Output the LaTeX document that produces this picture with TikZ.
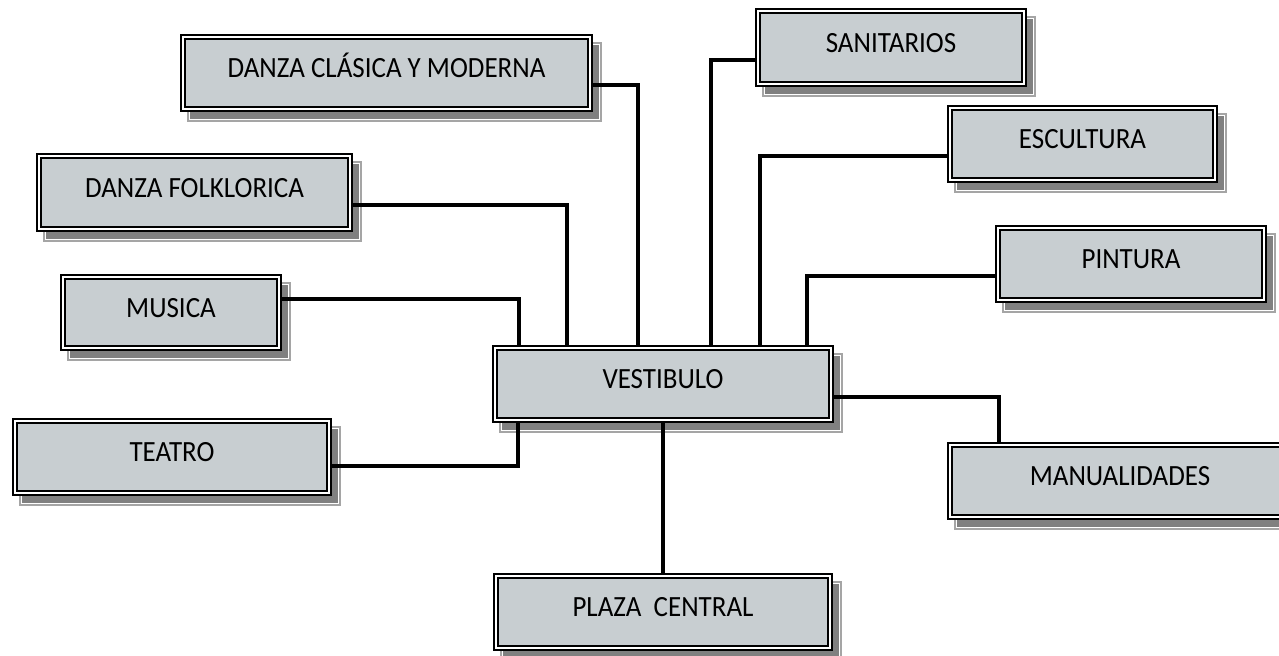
\documentclass[tikz,border=0pt]{standalone}
\usepackage{fontspec}
\setmainfont{Carlito}[FakeStretch=0.92]
\usetikzlibrary{fit}
\pgfdeclarelayer{shadowlayer}
\pgfdeclarelayer{linelayer}
\pgfsetlayers{shadowlayer,linelayer,main}
\definecolor{boxgray}{RGB}{200,206,209}
\definecolor{shadowgray}{RGB}{128,128,128}
\definecolor{shadowedge}{RGB}{165,165,165}
\newcommand\roomtext[1]{\smash{\raisebox{-3.4pt}{#1}}}
\tikzset{
  room/.style={draw=black, double=white, line width=1.7pt, double distance=1.4pt,
    fill=boxgray, inner sep=0pt, outer sep=0pt,
    font=\fontsize{22}{26}\selectfont},
  link/.style={line width=3pt, black},
  shadebox/.style={fill=shadowgray, draw=shadowedge, line width=1pt},
  shadeline/.style={draw=white, line width=0.9pt}
}
\newcommand\roomshadow[1]{%
  \filldraw[shadebox] ([shift={(5,6)}]#1.north west) rectangle ([shift={(11,12)}]#1.south east);
  \draw[shadeline] ([shift={(6.5,7.5)}]#1.north west) rectangle ([shift={(9.5,10.5)}]#1.south east);
}
\begin{document}
\begin{tikzpicture}[x=0.75pt,y=-0.75pt]
\useasboundingbox (0,0) rectangle (1279,656);

% rooms
\node[room, fit={(183,37)(590,109)}] (dcm) {\roomtext{DANZA CLÁSICA Y MODERNA}};
\node[room, fit={(758,11)(1024,84)}] (san) {\roomtext{SANITARIOS}};
\node[room, fit={(39,156)(350,229)}] (dfo) {\roomtext{DANZA FOLKLORICA}};
\node[room, fit={(950,108)(1215,180)}] (esc) {\roomtext{ESCULTURA}};
\node[room, fit={(998,228)(1264,300)}] (pin) {\roomtext{PINTURA}};
\node[room, fit={(63,277)(279,348)}] (mus) {\roomtext{MUSICA}};
\node[room, fit={(495,348)(831,420)}] (ves) {\roomtext{VESTIBULO}};
\node[room, fit={(15,421)(329,493)}] (tea) {\roomtext{TEATRO}};
\node[room, fit={(950,445)(1290,517)}] (man) {\roomtext{MANUALIDADES}};
\node[room, fit={(496,576)(830,648)}] (pla) {\roomtext{PLAZA\ \ CENTRAL}};

% drop shadows
\begin{pgfonlayer}{shadowlayer}
  \foreach \n in {dcm,san,dfo,esc,pin,mus,ves,tea,man,pla}{\roomshadow{\n}}
\end{pgfonlayer}

% connectors
\begin{pgfonlayer}{linelayer}
  \draw[link] (dcm.east |- 0,85)  -| (ves.north -| 638,0);
  \draw[link] (san.west |- 0,60)  -| (ves.north -| 711,0);
  \draw[link] (dfo.east |- 0,205) -| (ves.north -| 567,0);
  \draw[link] (esc.west |- 0,156) -| (ves.north -| 760,0);
  \draw[link] (pin.west |- 0,276) -| (ves.north -| 807,0);
  \draw[link] (mus.east |- 0,299) -| (ves.north -| 519,0);
  \draw[link] (tea.east |- 0,466) -| (ves.south -| 518,0);
  \draw[link] (ves.east |- 0,397) -| (man.north -| 999,0);
  \draw[link] (ves.south -| 663,0) -- (pla.north -| 663,0);
\end{pgfonlayer}
\end{tikzpicture}
\end{document}
